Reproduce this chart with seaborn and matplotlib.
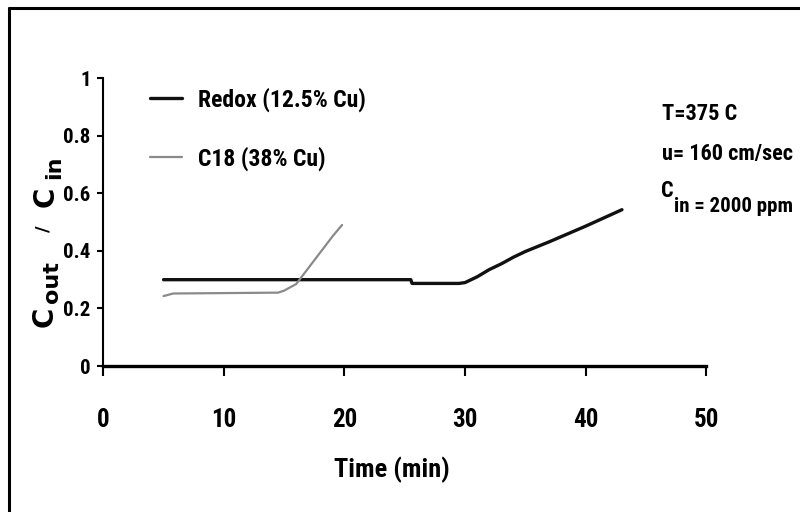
import matplotlib
matplotlib.use("Agg")
import matplotlib.pyplot as plt
from matplotlib.lines import Line2D
from matplotlib import font_manager as fm
import numpy as np
import pandas as pd
import seaborn as sns

# ---- data ----
redox_time = [5, 25.5, 25.6, 29.5, 30, 31, 32, 33, 34, 35, 36, 37, 38, 39, 40, 41, 42, 43]
redox_ratio = [0.30, 0.30, 0.287, 0.287, 0.29, 0.31, 0.335, 0.355, 0.378, 0.398,
               0.415, 0.432, 0.45, 0.468, 0.486, 0.505, 0.524, 0.543]
c18_time = [5, 5.8, 14.5, 15, 16, 17, 18, 19, 19.8]
c18_ratio = [0.243, 0.252, 0.255, 0.262, 0.285, 0.34, 0.395, 0.45, 0.49]

series_names = ["Redox (12.5% Cu)", "C18 (38% Cu)"]
series_colors = ["#111111", "#8a8a8a"]
x_ticks = [0, 10, 20, 30, 40, 50]
y_ticks = [0, 0.2, 0.4, 0.6, 0.8, 1]
y_tick_labels = ["0", "0.2", "0.4", "0.6", "0.8", "1"]
x_label = "Time (min)"
notes = ["T=375 C", "u= 160 cm/sec"]

df = pd.concat([
    pd.DataFrame({"time": redox_time, "ratio": redox_ratio, "series": series_names[0]}),
    pd.DataFrame({"time": c18_time, "ratio": c18_ratio, "series": series_names[1]}),
])

sns.set_theme(style="white")


def find_narrow(bold):
    """Look for an installed condensed / narrow sans face."""
    prefs = ["Liberation Sans Narrow", "Roboto Condensed", "DejaVu Sans",
             "Noto Sans", "Open Sans", "Roboto", "Lato", "Inter"]
    cands = []
    for f in fm.fontManager.ttflist:
        nm = f.name
        fn = f.fname.lower()
        is_narrow = ("narrow" in nm.lower() or "condensed" in nm.lower()
                     or "condensed" in fn or "narrow" in fn
                     or str(f.stretch) in ("condensed", "semi-condensed", "extra-condensed"))
        if not is_narrow or "italic" in fn or "oblique" in fn or f.style != "normal":
            continue
        if "extra" in fn or "ultra" in fn or "semi" in fn:
            continue
        w = f.weight if isinstance(f.weight, int) else (700 if "bold" in str(f.weight) else 400)
        isbold = w >= 600 or "bold" in fn
        if "semibold" in fn or "light" in fn or "thin" in fn or "medium" in fn or "black" in fn:
            continue
        if isbold != bold:
            continue
        rank = next((i for i, p in enumerate(prefs) if nm.startswith(p)), len(prefs))
        cands.append((rank, f.fname))
    cands.sort()
    return cands[0][1] if cands else None


nb = find_narrow(True)
if nb:
    fp_bold = fm.FontProperties(fname=nb)
    scale = 1.0
else:
    fp_bold = fm.FontProperties(family="DejaVu Sans", weight="bold")
    scale = 0.85

plt.rcParams["font.family"] = ["DejaVu Sans"]

fig = plt.figure(figsize=(8, 5.12), dpi=100)
ax = fig.add_axes([0.129, 0.285, 0.754, 0.5625])

sns.lineplot(data=df, x="time", y="ratio", hue="series", hue_order=series_names,
             palette=dict(zip(series_names, series_colors)), ax=ax, sort=False,
             legend=False)
lines = ax.get_lines()
lines[0].set_linewidth(2.4)
lines[1].set_linewidth(1.6)

ax.set_xlim(0, 50)
ax.set_ylim(0, 1)
ax.set_xticks(x_ticks)
ax.set_yticks(y_ticks)
ax.set_yticklabels(y_tick_labels)
ax.set_xlabel("")
ax.set_ylabel("")

for s in ["top", "right"]:
    ax.spines[s].set_visible(False)
ax.spines["bottom"].set_linewidth(2.4)
ax.spines["left"].set_linewidth(1.5)
for s in ["bottom", "left"]:
    ax.spines[s].set_color("black")

ax.tick_params(axis="x", direction="out", length=7, width=1.5, pad=23,
               colors="black", bottom=True)
ax.tick_params(axis="y", direction="out", length=4, width=1.5, pad=5,
               colors="black", left=True)
for lab in ax.get_xticklabels():
    lab.set_fontproperties(fp_bold)
    lab.set_fontsize(18 * scale)
for lab in ax.get_yticklabels():
    lab.set_fontproperties(fp_bold)
    lab.set_fontsize(15 * scale)

# x axis label
ax.text(0.479, -0.36, x_label, transform=ax.transAxes, ha="center", va="center",
        fontproperties=fp_bold, fontsize=19 * scale, color="black")

# y axis label, built from rotated pieces: C_out / C_in
H = 512.0
W = 800.0
ylab_parts = [("C", 53, 327, 20), ("out", 58, 303, 16), ("/", 48, 232, 13),
              ("C", 54, 207, 20), ("in", 60, 179, 16)]
for txt, px, py, fs in ylab_parts:
    fig.text(px / W, 1 - py / H, txt, rotation=90, rotation_mode="anchor",
             ha="left", va="baseline", fontsize=fs, fontweight="bold",
             family="DejaVu Sans", color="black")

# legend
fp_leg = fp_bold.copy()
fp_leg.set_size(17 * scale)
handles = [Line2D([0], [0], color=series_colors[0], lw=2.4),
           Line2D([0], [0], color=series_colors[1], lw=1.6)]
leg = ax.legend(handles, series_names, loc="upper left", bbox_to_anchor=(0.078, 0.968),
                frameon=False, prop=fp_leg, handlelength=1.36, handletextpad=0.68,
                labelspacing=1.48, borderpad=0, borderaxespad=0)
for t in leg.get_texts():
    t.set_color("black")

# annotation block
ns = 16 * scale
fig.text(662 / W, 1 - 114 / H, notes[0], ha="left", va="center", fontproperties=fp_bold,
         fontsize=ns, color="black")
fig.text(662 / W, 1 - 154 / H, notes[1], ha="left", va="center", fontproperties=fp_bold,
         fontsize=ns, color="black")
fig.text(661 / W, 1 - 191 / H, "C", ha="left", va="center", fontproperties=fp_bold,
         fontsize=ns, color="black")
fig.text(674 / W, 1 - 207 / H, "in = 2000 ppm", ha="left", va="center",
         fontproperties=fp_bold, fontsize=15 * scale, color="black")

# outer frame (left and top edges visible)
fig.add_artist(Line2D([0.011, 0.011], [0.0, 0.985], transform=fig.transFigure,
                      color="black", lw=2.2))
fig.add_artist(Line2D([0.011, 1.0], [0.985, 0.985], transform=fig.transFigure,
                      color="black", lw=2.2))

fig.savefig("out.png", dpi=100)
